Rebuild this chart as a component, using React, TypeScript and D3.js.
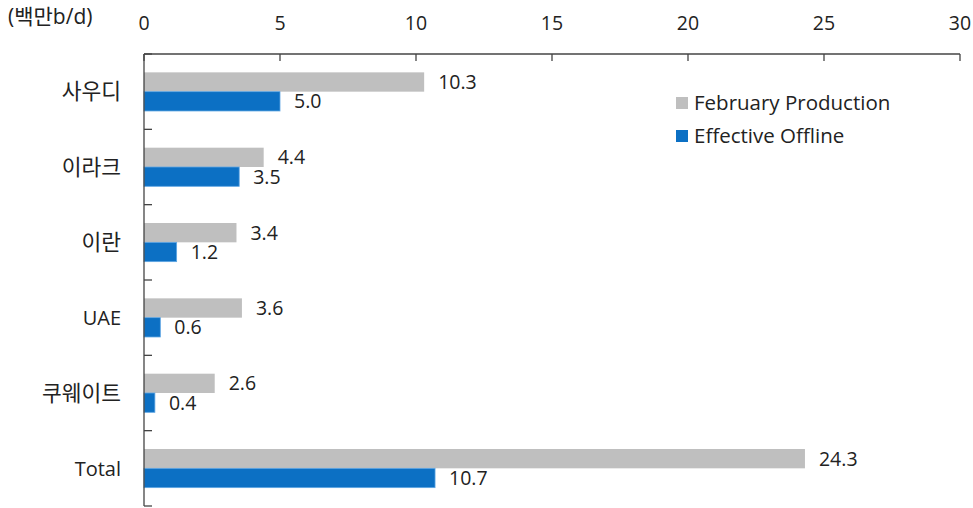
import React, { useEffect, useRef } from "react";
import * as d3 from "d3";

const categories = ["사우디", "이라크", "이란", "UAE", "쿠웨이트", "Total"];
const february = [10.3, 4.4, 3.4, 3.6, 2.6, 24.3];
const offline = [5.0, 3.5, 1.2, 0.6, 0.4, 10.7];
const xTicks = [0, 5, 10, 15, 20, 25, 30];
const seriesNames = ["February Production", "Effective Offline"];
const colors = ["#BFBFBF", "#0C70C4"];

const W = 973;
const H = 508;

const App = () => {
  const ref = useRef<SVGSVGElement>(null);

  useEffect(() => {
    const svg = d3.select(ref.current);
    svg.selectAll("*").remove();

    const font = "'Open Sans', 'Noto Sans CJK KR', sans-serif";
    const left = 144;
    const right = 960;
    const top = 54;
    const bottom = 506;

    const x = d3.scaleLinear().domain([0, 30]).range([left, right]);
    const y = d3.scaleBand<string>().domain(categories).range([top, bottom]).paddingInner(0).paddingOuter(0);
    const inner = d3.scaleBand<number>().domain([0, 1]).range([0, y.bandwidth()]).paddingOuter(0.95).paddingInner(0);

    const g = svg.append("g").style("font-family", font);

    // bars
    const series = [february, offline];
    series.forEach((vals, si) => {
      g.selectAll(`.bar${si}`)
        .data(vals)
        .enter()
        .append("rect")
        .attr("x", x(0))
        .attr("y", (_, i) => (y(categories[i]) as number) + (inner(si) as number))
        .attr("width", (d) => x(d) - x(0))
        .attr("height", inner.bandwidth())
        .attr("fill", colors[si])
        .attr("stroke", si === 1 ? "#5fa6e3" : "none")
        .attr("stroke-width", si === 1 ? 0.8 : 0);

      g.selectAll(`.lbl${si}`)
        .data(vals)
        .enter()
        .append("text")
        .attr("x", (d) => x(d) + 14)
        .attr("y", (_, i) => (y(categories[i]) as number) + (inner(si) as number) + inner.bandwidth() / 2)
        .attr("dy", "0.36em")
        .attr("font-size", 19.5)
        .attr("fill", "#222")
        .text((d) => d.toFixed(1));
    });

    // top axis
    g.append("line")
      .attr("x1", left).attr("x2", right)
      .attr("y1", top).attr("y2", top)
      .attr("stroke", "#444").attr("stroke-width", 1.3);
    xTicks.forEach((t) => {
      g.append("line")
        .attr("x1", x(t)).attr("x2", x(t))
        .attr("y1", top).attr("y2", top + 7)
        .attr("stroke", "#444").attr("stroke-width", 1.3);
      g.append("text")
        .attr("x", x(t))
        .attr("y", 30)
        .attr("text-anchor", "middle")
        .attr("font-size", 19.5)
        .attr("fill", "#222")
        .text(t);
    });

    // left axis
    g.append("line")
      .attr("x1", left).attr("x2", left)
      .attr("y1", top).attr("y2", bottom)
      .attr("stroke", "#444").attr("stroke-width", 1.3);
    d3.range(categories.length + 1).forEach((i) => {
      const yy = top + i * y.step();
      g.append("line")
        .attr("x1", left).attr("x2", left + 8)
        .attr("y1", yy).attr("y2", yy)
        .attr("stroke", "#444").attr("stroke-width", 1.3);
    });
    categories.forEach((c) => {
      const latin = /^[A-Za-z]+$/.test(c);
      g.append("text")
        .attr("x", 121)
        .attr("y", (y(c) as number) + y.bandwidth() / 2)
        .attr("dy", "0.36em")
        .attr("text-anchor", "end")
        .attr("font-size", latin ? 20 : 21.5)
        .attr("fill", "#222")
        .text(c);
    });

    // unit
    g.append("text")
      .attr("x", 8)
      .attr("y", 24)
      .attr("font-size", 21)
      .attr("fill", "#222")
      .text("(백만b/d)");

    // legend
    seriesNames.forEach((name, i) => {
      const ly = 103 + i * 33;
      g.append("rect")
        .attr("x", 676).attr("y", ly - 6)
        .attr("width", 12).attr("height", 12)
        .attr("fill", colors[i]);
      g.append("text")
        .attr("x", 694).attr("y", ly)
        .attr("dy", "0.36em")
        .attr("font-size", 20.5)
        .attr("fill", "#222")
        .text(name);
    });
  }, []);

  return (
    <svg
      ref={ref}
      width={W}
      height={H}
      style={{ position: "absolute", left: 0, top: 0, background: "#fff" }}
    />
  );
};

export default App;
